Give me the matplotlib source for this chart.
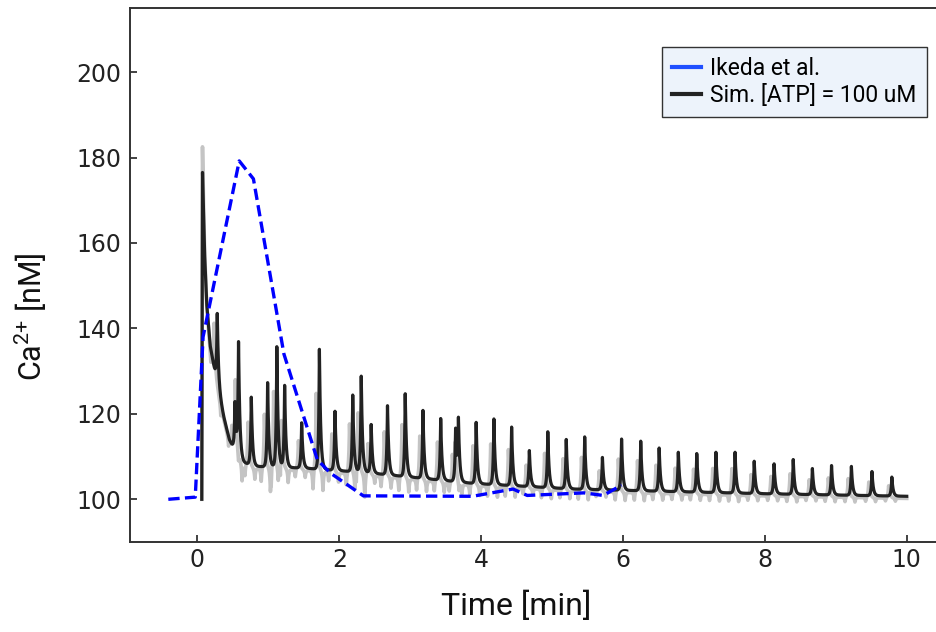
import numpy as np
import matplotlib
matplotlib.use("Agg")
import matplotlib.pyplot as plt
from matplotlib.lines import Line2D

# ---------------- data ----------------
ikeda_t = [-0.41, -0.03, 0.08, 0.59, 0.79, 1.22, 1.69, 1.87, 2.34, 3.88, 4.45, 4.65, 5.45, 5.72, 5.98]
ikeda_v = [100.0, 100.5, 138.0, 179.2, 175.0, 134.0, 109.3, 106.2, 100.8, 100.7, 102.4, 100.9, 101.5, 100.9, 103.3]

sim_onset_t = 0.062
sim_onset_v = 100.0
sim_peak_t = 0.072
sim_peak_v = 176.5
gray_peak_v = 183.0

# slowly decaying baseline of the simulation (read at a few times)
env_t = [0.072, 0.10, 0.13, 0.18, 0.27, 0.37, 0.45, 0.55, 0.65, 0.80, 1.50, 2.40, 3.90, 5.30, 6.50, 8.00, 10.0]
env_v = [176.5, 158.0, 146.0, 136.0, 127.6, 119.4, 114.0, 110.5, 108.6, 107.7, 107.3, 106.2, 103.7, 102.4, 101.9, 101.3, 100.7]

# Ca2+ spikes of the simulation: time [min] and peak value [nM]
spike_t = [0.28, 0.53, 0.58, 0.76, 0.99, 1.12, 1.23, 1.47, 1.72, 1.94, 2.19, 2.31, 2.45, 2.68,
           2.93, 3.18, 3.43, 3.64, 3.68, 3.93, 4.18, 4.43, 4.68, 4.94, 5.20, 5.46, 5.71, 5.98,
           6.25, 6.51, 6.78, 7.04, 7.31, 7.58, 7.85, 8.13, 8.40, 8.67, 8.94, 9.22, 9.51, 9.79]
spike_v = [143.5, 122.6, 136.2, 123.9, 127.3, 135.7, 126.6, 117.9, 135.1, 120.6, 124.4, 128.8, 117.5, 121.9,
           124.7, 120.8, 118.9, 116.3, 117.9, 118.0, 118.8, 116.9, 111.4, 115.8, 114.0, 114.6, 109.8, 114.1,
           113.6, 112.0, 111.0, 110.7, 111.0, 111.0, 108.9, 108.3, 109.3, 107.2, 107.9, 107.7, 106.5, 105.2]

xticks = [0, 2, 4, 6, 8, 10]
yticks = [100, 120, 140, 160, 180, 200]

# ---------------- build simulation traces ----------------
t = np.arange(sim_peak_t, 10.0005, 0.001)
env = np.interp(t, env_t, env_v)
black = env.copy()
gray = env.copy() - 0.5
gray += (gray_peak_v - sim_peak_v) * np.exp(-(t - sim_peak_t) / 0.02)


def pulse(dt, rise, decay):
    return np.where(dt < 0, np.exp(np.minimum(dt, 0) / rise), np.exp(-np.maximum(dt, 0) / decay))


for ts, pv in zip(spike_t, spike_v):
    amp = pv - np.interp(ts, env_t, env_v)
    black += amp * pulse(t - ts, 0.011, 0.018)
    gray += 0.65 * amp * pulse(t - (ts - 0.045), 0.011, 0.018)
    gray -= 0.16 * amp * (np.exp(-np.abs(t - (ts - 0.09)) / 0.01) +
                          np.exp(-np.abs(t - (ts + 0.05)) / 0.01))

tb = np.r_[sim_onset_t, t]
black = np.r_[sim_onset_v, black]
gray = np.r_[sim_onset_v, gray]

# ---------------- figure ----------------
W, H = 937, 632
fig = plt.figure(figsize=(W / 100, H / 100), dpi=100)
ax_left, ax_right, ax_top, ax_bot = 130, 942.2, 8, 542
ax = fig.add_axes([ax_left / W, 1 - ax_bot / H, (ax_right - ax_left) / W, (ax_bot - ax_top) / H])

ax.plot(tb, gray, color="#c4c4c4", lw=2.6, zorder=2, solid_joinstyle="round")
ax.plot(tb, black, color="#222222", lw=2.3, zorder=3, solid_joinstyle="round")
ax.plot(ikeda_t, ikeda_v, color="#0000ff", lw=2.4, ls=(0, (3.4, 1.6)), zorder=4)

ax.set_xlim(-0.95, 10.5)
ax.set_ylim(90, 215)
ax.set_xticks(xticks)
ax.set_yticks(yticks)
ax.set_xticklabels([str(v) for v in xticks], fontfamily="DejaVu Sans", fontsize=17, color="#222222")
ax.set_yticklabels([str(v) for v in yticks], fontfamily="DejaVu Sans", fontsize=17, color="#222222")
ax.tick_params(axis="both", direction="in", length=5, width=1.3, color="#333333")
ax.tick_params(axis="y", pad=6)
ax.tick_params(axis="x", pad=4.5)
for s in ax.spines.values():
    s.set_color("#333333")
    s.set_linewidth(1.4)

ax.set_ylabel(r"Ca$\mathregular{^{2{+}}}$ [nM]", fontfamily="Roboto", fontsize=22, color="#111111")
ax.yaxis.set_label_coords(-0.100, 0.421)
ax.set_xlabel("Time [min]", fontfamily="Roboto", fontsize=23, color="#111111")
ax.xaxis.set_label_coords(0.476, -0.092)

handles = [Line2D([], [], color="#1f4fff", lw=3),
           Line2D([], [], color="#222222", lw=3)]
leg = ax.legend(handles, ["Ikeda et al.", "Sim. [ATP] = 100 uM"],
                loc="upper right", bbox_to_anchor=(927 / W, 1 - 47 / H),
                bbox_transform=fig.transFigure, borderaxespad=0,
                prop={"family": "Roboto", "size": 16.5},
                handlelength=1.25, handletextpad=0.4, labelspacing=0.15,
                borderpad=0.45, fancybox=False, framealpha=1)
leg.get_frame().set_facecolor("#edf3fb")
leg.get_frame().set_edgecolor("#333333")
leg.get_frame().set_linewidth(1.0)

fig.savefig("out.png", dpi=100)
